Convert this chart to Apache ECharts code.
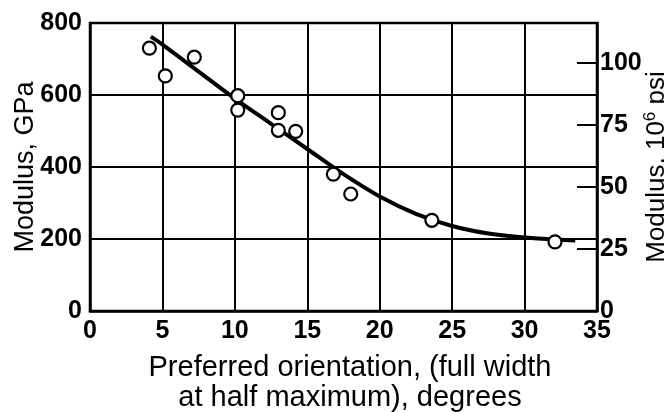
<!DOCTYPE html>
<html>
<head>
<meta charset="utf-8">
<script src="https://cdn.jsdelivr.net/npm/echarts@6/dist/echarts.min.js"></script>
<style>
  html, body { margin: 0; padding: 0; background: #fff; }
  #chart { width: 664px; height: 412px; }
</style>
</head>
<body>
<div id="chart"></div>
<script>
// Measured specimens: preferred orientation (FWHM, degrees) vs. modulus (GPa)
const orientationDeg = [4.1, 5.2, 7.2, 10.2, 10.2, 13.0, 13.0, 14.2, 16.8, 18.0, 23.6, 32.1];
const modulusGPa     = [730, 653, 705, 598, 558, 551, 502, 499, 380, 325, 252, 192];

// Hand-drawn trend curve through the data
const trendDeg = [4.2, 5, 7.5, 10, 12.5, 15, 17.5, 20, 22.5, 25, 27.5, 30, 33.5];
const trendGPa = [762, 740, 665, 590, 520, 450, 380, 318, 270, 236, 215, 204, 196];

// Axis ticks
const degTicks = [0, 5, 10, 15, 20, 25, 30, 35];
const gpaTicks = [0, 200, 400, 600, 800];
const psiTicks = [0, 25, 50, 75, 100];

// 1 GPa = 0.145038 x 10^6 psi
const GPA_TO_MSI = 0.145038;

const tickFont = "'Liberation Sans Narrow', 'Liberation Sans', Arial, sans-serif";
const titleFont = "'Liberation Sans', Arial, sans-serif";

const chart = echarts.init(document.getElementById('chart'), null, { renderer: 'canvas' });

const pairs = (xs, ys) => xs.map((x, i) => [x, ys[i]]);

const tickLabel = (margin) => ({
  margin, color: '#000', fontFamily: tickFont, fontWeight: 'bold', fontSize: 25
});

chart.setOption({
  animation: false,
  backgroundColor: '#fff',
  grid: {
    left: 90, right: 67, top: 23, bottom: 101,
    outerBoundsMode: 'none',
    containLabel: false,
    show: true, borderColor: '#000', borderWidth: 2.5, backgroundColor: 'transparent'
  },
  xAxis: {
    type: 'value',
    min: degTicks[0], max: degTicks[degTicks.length - 1], interval: 5,
    name: 'Preferred orientation, (full width\nat half maximum), degrees',
    nameLocation: 'middle',
    nameGap: 42,
    nameMoveOverlap: false,
    nameTextStyle: {
      fontFamily: titleFont, fontSize: 29, color: '#000', lineHeight: 30,
      padding: [0, 0, 0, 13]
    },
    axisLine: { show: true, lineStyle: { color: '#000', width: 2.5 } },
    axisTick: { show: false },
    axisLabel: tickLabel(8),
    splitLine: { show: true, lineStyle: { color: '#000', width: 2 } }
  },
  yAxis: [
    {
      type: 'value',
      min: gpaTicks[0], max: gpaTicks[gpaTicks.length - 1], interval: 200,
      name: 'Modulus, GPa',
      nameLocation: 'middle',
      nameRotate: 90,
      nameGap: 51,
      nameMoveOverlap: false,
      nameTextStyle: { fontFamily: titleFont, fontSize: 27, color: '#000' },
      axisLine: { show: true, lineStyle: { color: '#000', width: 2.5 } },
      axisTick: { show: false },
      axisLabel: tickLabel(8),
      splitLine: { show: true, lineStyle: { color: '#000', width: 2 } }
    },
    {
      type: 'value',
      position: 'right',
      min: 0, max: gpaTicks[gpaTicks.length - 1] * GPA_TO_MSI, interval: 25,
      name: '{t|Modulus, 10}{s|6}{t| psi}',
      nameLocation: 'middle',
      nameRotate: 90,
      nameGap: 45,
      nameMoveOverlap: false,
      nameTextStyle: {
        color: '#000',
        rich: {
          t: { fontFamily: titleFont, fontSize: 26, color: '#000', lineHeight: 28, verticalAlign: 'bottom' },
          s: { fontFamily: titleFont, fontSize: 17, color: '#000', lineHeight: 28, verticalAlign: 'top' }
        }
      },
      axisLine: { show: true, lineStyle: { color: '#000', width: 2.5 } },
      axisTick: {
        show: true, inside: true, length: 20,
        customValues: psiTicks,
        lineStyle: { color: '#000', width: 2 }
      },
      axisLabel: Object.assign(tickLabel(3), { customValues: psiTicks }),
      splitLine: { show: false }
    }
  ],
  series: [
    {
      name: 'Trend',
      type: 'line',
      yAxisIndex: 0,
      data: pairs(trendDeg, trendGPa),
      smooth: 0.35,
      showSymbol: false,
      symbol: 'none',
      lineStyle: { color: '#000', width: 4 },
      z: 3
    },
    {
      name: 'Specimens',
      type: 'scatter',
      yAxisIndex: 0,
      data: pairs(orientationDeg, modulusGPa),
      symbol: 'circle',
      symbolSize: 13,
      itemStyle: { color: '#fff', opacity: 1, borderColor: '#000', borderWidth: 2.2 },
      z: 4
    }
  ]
});
</script>
</body>
</html>
